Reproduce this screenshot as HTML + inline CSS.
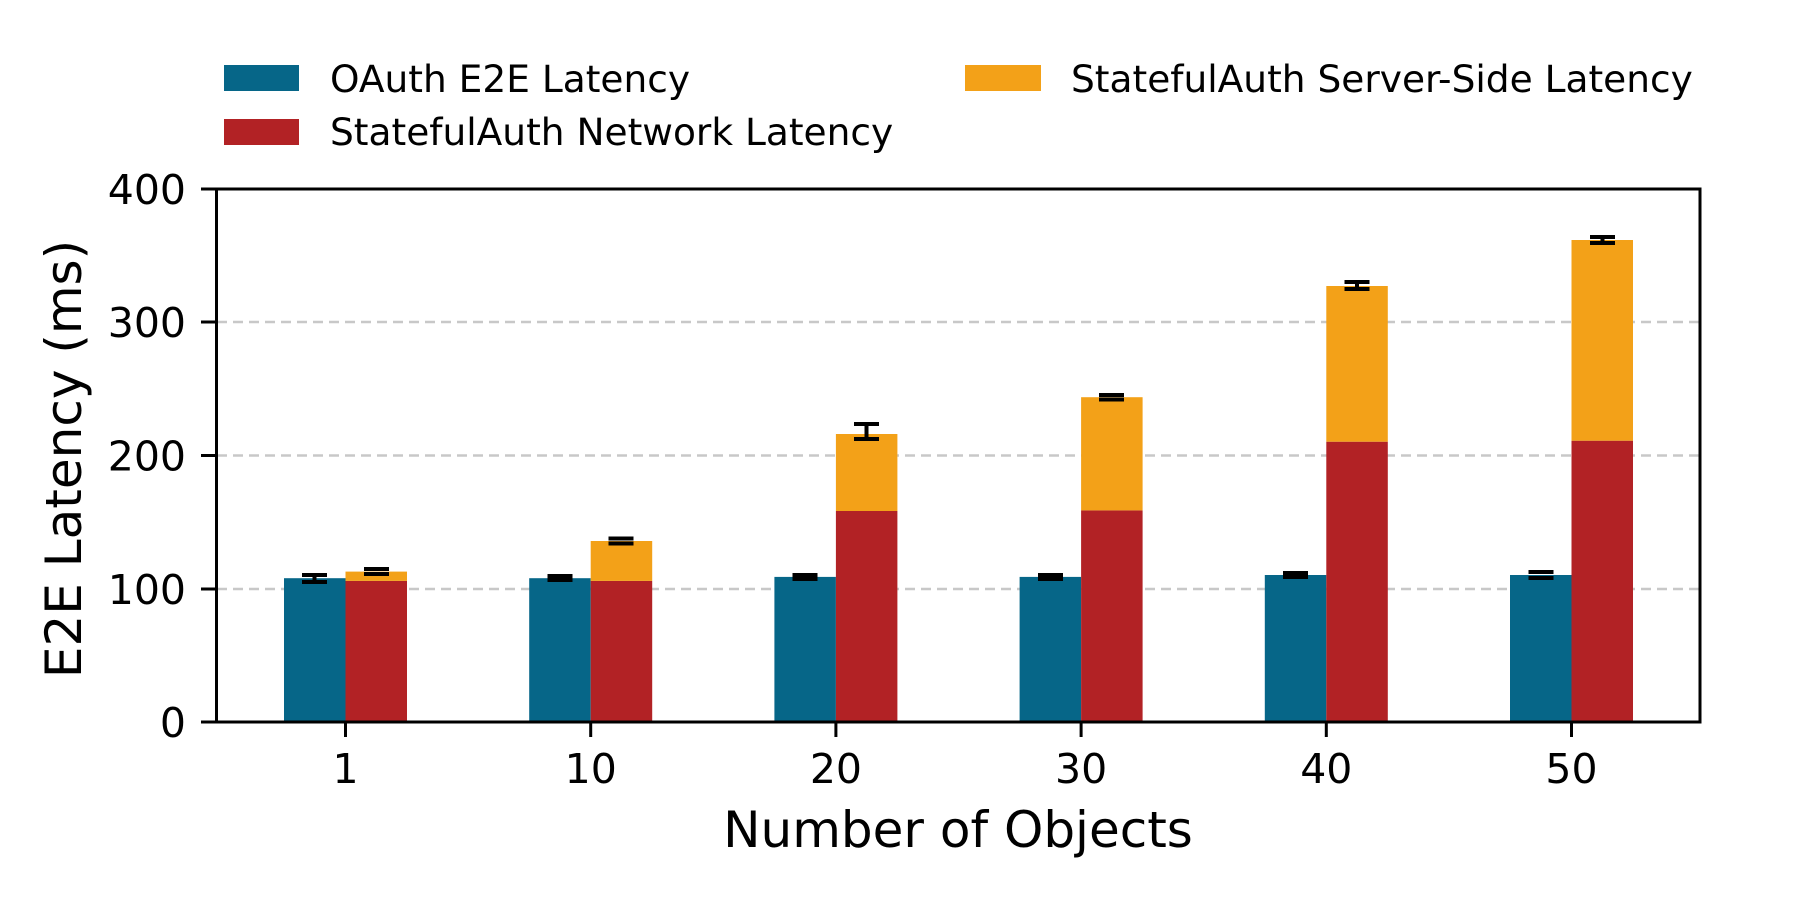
<!DOCTYPE html>
<html><head><meta charset="utf-8"><style>html,body{margin:0;padding:0;background:#fff}svg{display:block}</style></head>
<body>
<svg width="1800" height="900" viewBox="0 0 1800 900" xmlns="http://www.w3.org/2000/svg" font-family="DejaVu Sans, Liberation Sans, sans-serif">
<rect width="1800" height="900" fill="#fff"/>
<!-- legend -->
<rect x="224" y="65" width="75" height="26" fill="#066688"/>
<text x="330" y="92" font-size="37.5">OAuth E2E Latency</text>
<rect x="224" y="119" width="75" height="26" fill="#b22225"/>
<text x="330" y="145" font-size="37.5">StatefulAuth Network Latency</text>
<rect x="965" y="65" width="76" height="26" fill="#f3a118"/>
<text x="1071" y="92" font-size="37.5">StatefulAuth Server-Side Latency</text>
<!-- grid -->
<g stroke="#c8c8c8" stroke-width="2.5" stroke-dasharray="10,6">
<line x1="217" y1="322" x2="1700" y2="322"/>
<line x1="217" y1="455.5" x2="1700" y2="455.5"/>
<line x1="217" y1="589" x2="1700" y2="589"/>
</g>
<!-- bars -->
<g id="bars">
<rect x="284" y="578.2" width="61.5" height="143.8" fill="#066688"/>
<rect x="345.5" y="580.9" width="61.5" height="141.1" fill="#b22225"/>
<rect x="345.5" y="571.6" width="61.5" height="9.3" fill="#f3a118"/>

<rect x="529.2" y="578.2" width="61.5" height="143.8" fill="#066688"/>
<rect x="590.7" y="580.9" width="61.5" height="141.1" fill="#b22225"/>
<rect x="590.7" y="541" width="61.5" height="39.9" fill="#f3a118"/>

<rect x="774.4" y="576.9" width="61.5" height="145.1" fill="#066688"/>
<rect x="835.9" y="511" width="61.5" height="211" fill="#b22225"/>
<rect x="835.9" y="434" width="61.5" height="77" fill="#f3a118"/>

<rect x="1019.6" y="576.9" width="61.5" height="145.1" fill="#066688"/>
<rect x="1081.1" y="510.4" width="61.5" height="211.6" fill="#b22225"/>
<rect x="1081.1" y="397.2" width="61.5" height="113.2" fill="#f3a118"/>

<rect x="1264.8" y="575" width="61.5" height="147" fill="#066688"/>
<rect x="1326.3" y="441.7" width="61.5" height="280.3" fill="#b22225"/>
<rect x="1326.3" y="286" width="61.5" height="155.7" fill="#f3a118"/>

<rect x="1510" y="575" width="61.5" height="147" fill="#066688"/>
<rect x="1571.5" y="440.7" width="61.5" height="281.3" fill="#b22225"/>
<rect x="1571.5" y="240" width="61.5" height="200.7" fill="#f3a118"/>
</g>
<!-- error bars -->
<g stroke="#000" stroke-width="4">
<path d="M302 575h25M302 582h25M314.5 575v7"/>
<path d="M364 569h25M364 574h25"/>
<path d="M547.5 576h25M547.5 580h25"/>
<path d="M608.5 538.5h25M608.5 543.5h25"/>
<path d="M792.5 575h25M792.5 579h25"/>
<path d="M854 424h25M854 439h25M866.5 424v15"/>
<path d="M1038 575h25M1038 579h25"/>
<path d="M1099 395h25M1099 399.5h25"/>
<path d="M1283 573h25M1283 577h25"/>
<path d="M1344.5 282h25M1344.5 289h25M1357 282v7"/>
<path d="M1528.5 572h25M1528.5 578h25"/>
<path d="M1590 237h25M1590 243h25M1602.5 237v6"/>
</g>
<!-- axes -->
<rect x="216.5" y="189" width="1483.5" height="533" fill="none" stroke="#000" stroke-width="3"/>
<g stroke="#000" stroke-width="3">
<line x1="201" y1="189" x2="216" y2="189"/>
<line x1="201" y1="322" x2="216" y2="322"/>
<line x1="201" y1="455.5" x2="216" y2="455.5"/>
<line x1="201" y1="589" x2="216" y2="589"/>
<line x1="201" y1="722" x2="216" y2="722"/>
<line x1="345.5" y1="723" x2="345.5" y2="737"/>
<line x1="590.7" y1="723" x2="590.7" y2="737"/>
<line x1="835.9" y1="723" x2="835.9" y2="737"/>
<line x1="1081.1" y1="723" x2="1081.1" y2="737"/>
<line x1="1326.3" y1="723" x2="1326.3" y2="737"/>
<line x1="1571.5" y1="723" x2="1571.5" y2="737"/>
</g>
<g font-size="41" text-anchor="end">
<text x="186" y="204">400</text>
<text x="186" y="337">300</text>
<text x="186" y="470.5">200</text>
<text x="186" y="604">100</text>
<text x="186" y="737">0</text>
</g>
<g font-size="41" text-anchor="middle">
<text x="345.5" y="783">1</text>
<text x="590.7" y="783">10</text>
<text x="835.9" y="783">20</text>
<text x="1081.1" y="783">30</text>
<text x="1326.3" y="783">40</text>
<text x="1571.5" y="783">50</text>
</g>
<text x="958" y="847" font-size="50" text-anchor="middle">Number of Objects</text>
<text transform="translate(81,459) rotate(-90)" font-size="50" text-anchor="middle">E2E Latency (ms)</text>
</svg>
</body></html>
